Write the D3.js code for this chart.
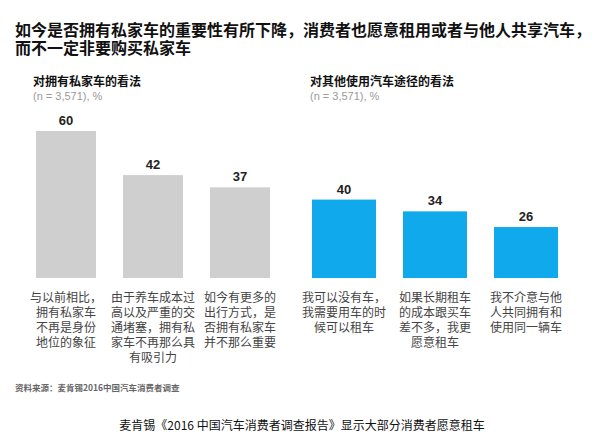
<!DOCTYPE html>
<html>
<head>
<meta charset="utf-8">
<script src="https://cdn.jsdelivr.net/npm/d3@7"></script>
<style>
  body { margin: 0; background: #fff; }
  svg { display: block; }
</style>
</head>
<body>
<div id="chart"></div>
<script>
const titleLines = [
  '如今是否拥有私家车的重要性有所下降，消费者也愿意租用或者与他人共享汽车，',
  '而不一定非要购买私家车',
];

const ownCategories = ['a', 'b', 'c'];
const ownValues = [60, 42, 37];
const ownLabels = [
  ['与以前相比，', '拥有私家车', '不再是身份', '地位的象征'],
  ['由于养车成本过', '高以及严重的交', '通堵塞，拥有私', '家车不再那么具', '有吸引力'],
  ['如今有更多的', '出行方式，是', '否拥有私家车', '并不那么重要'],
];

const otherCategories = ['a', 'b', 'c'];
const otherValues = [40, 34, 26];
const otherLabels = [
  ['我可以没有车，', '我需要用车的时', '候可以租车'],
  ['如果长期租车', '的成本跟买车', '差不多，我更', '愿意租车'],
  ['我不介意与他', '人共同拥有和', '使用同一辆车'],
];

const WIDTH = 600;
const HEIGHT = 439;
const BASELINE = 278;
const CJK = '"Noto Sans CJK SC", sans-serif';
const LATIN = '"Liberation Sans", Arial, sans-serif';

const svg = d3.select('#chart').append('svg')
  .attr('width', WIDTH)
  .attr('height', HEIGHT);

svg.append('g')
  .selectAll('text')
  .data(titleLines)
  .join('text')
  .attr('x', 15)
  .attr('y', (d, i) => 36 + i * 17.5)
  .attr('font-family', CJK)
  .attr('font-size', 16)
  .attr('font-weight', 700)
  .attr('fill', '#111')
  .text(d => d);

function drawPanel(opts) {
  const g = svg.append('g');

  g.append('text')
    .attr('x', opts.left)
    .attr('y', 86)
    .attr('font-family', CJK)
    .attr('font-size', 12)
    .attr('font-weight', 700)
    .attr('fill', '#111')
    .text(opts.heading);

  g.append('text')
    .attr('x', opts.left)
    .attr('y', 100)
    .attr('font-family', LATIN)
    .attr('font-size', 11)
    .attr('fill', '#9a9a9a')
    .text('(n = 3,571), %');

  const x = d3.scaleBand()
    .domain(opts.categories)
    .range(opts.range)
    .paddingInner(opts.padding)
    .paddingOuter(opts.padding / 2);

  const y = d3.scaleLinear()
    .domain([0, 100])
    .range([BASELINE, BASELINE - opts.pxPerUnit * 100]);

  const rows = opts.categories.map((c, i) => ({ c, v: opts.values[i], lines: opts.labels[i] }));

  g.selectAll('rect')
    .data(rows)
    .join('rect')
    .attr('x', d => x(d.c))
    .attr('y', d => y(d.v))
    .attr('width', x.bandwidth())
    .attr('height', d => y(0) - y(d.v))
    .attr('fill', opts.color);

  g.selectAll('.value')
    .data(rows)
    .join('text')
    .attr('class', 'value')
    .attr('x', d => x(d.c) + x.bandwidth() / 2)
    .attr('y', d => y(d.v) - 6)
    .attr('text-anchor', 'middle')
    .attr('font-family', LATIN)
    .attr('font-size', 13)
    .attr('font-weight', 700)
    .attr('fill', '#222')
    .text(d => d.v);

  const labels = g.selectAll('.cat')
    .data(rows)
    .join('text')
    .attr('class', 'cat')
    .attr('text-anchor', 'middle')
    .attr('font-family', CJK)
    .attr('font-size', 12)
    .attr('fill', '#444');

  labels.selectAll('tspan')
    .data(d => d.lines.map(line => ({ line, cx: x(d.c) + x.bandwidth() / 2 })))
    .join('tspan')
    .attr('x', d => d.cx)
    .attr('y', (d, i) => 302 + i * 15)
    .text(d => d.line);
}

drawPanel({
  heading: '对拥有私家车的看法',
  left: 33,
  categories: ownCategories,
  values: ownValues,
  labels: ownLabels,
  range: [22.5, 283.5],
  padding: 0.31,
  pxPerUnit: 2.45,
  color: '#cfcfcf',
});

drawPanel({
  heading: '对其他使用汽车途径的看法',
  left: 310,
  categories: otherCategories,
  values: otherValues,
  labels: otherLabels,
  range: [298.5, 571.5],
  padding: 0.297,
  pxPerUnit: 1.96,
  color: '#10a9ec',
});

svg.append('text')
  .attr('x', 15)
  .attr('y', 391)
  .attr('font-family', CJK)
  .attr('font-size', 8.5)
  .attr('font-weight', 700)
  .attr('fill', '#666')
  .text('资料来源：麦肯锡2016中国汽车消费者调查');

svg.append('text')
  .attr('x', 302)
  .attr('y', 430)
  .attr('text-anchor', 'middle')
  .attr('font-family', CJK)
  .attr('font-size', 12)
  .attr('fill', '#111')
  .text('麦肯锡《2016 中国汽车消费者调查报告》显示大部分消费者愿意租车');
</script>
</body>
</html>
